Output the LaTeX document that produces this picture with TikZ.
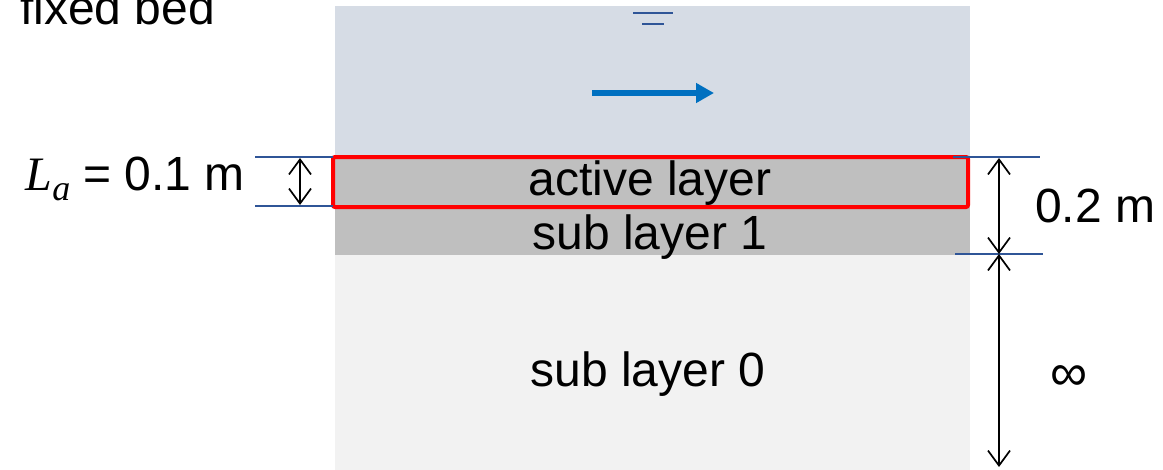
\documentclass[tikz,border=0pt]{standalone}
\usepackage{fontspec}
\setmainfont{Liberation Sans}
\newfontfamily\serifit{Liberation Serif}
\usetikzlibrary{arrows.meta}
\definecolor{water}{HTML}{D6DCE5}
\definecolor{layergray}{HTML}{BFBFBF}
\definecolor{substrate}{HTML}{F2F2F2}
\definecolor{dimblue}{HTML}{2F5597}
\definecolor{flowblue}{HTML}{0070C0}
\begin{document}
\begin{tikzpicture}[x=1pt,y=-1pt,
  every node/.style={inner sep=0pt, outer sep=0pt},
  lbl/.style={font=\fontsize{48}{52}\selectfont},
  layerbox/.style={anchor=north west, draw=none},
  dimline/.style={draw=dimblue, line width=1.4pt},
  dimarrow/.style={draw=black, line width=1.7pt, {Straight Barb[length=15pt,width=22pt]}-{Straight Barb[length=15pt,width=22pt]}},
  surf/.style={draw=dimblue, line width=1.6pt}
]
\useasboundingbox (0,0) rectangle (1163,469);
\clip (0,0) rectangle (1163,469);

% layers
\node[layerbox, fill=water, minimum width=635pt, minimum height=151pt] (water) at (335,6) {};
\node[layerbox, fill=layergray, minimum width=635pt, minimum height=98pt] (gray) at (335,157) {};
\node[layerbox, fill=substrate, minimum width=635pt, minimum height=220pt] (sub0box) at (335,255) {};
\node[draw=red, line width=4pt, rounded corners=2pt, anchor=north west, minimum width=635pt, minimum height=50pt] (active) at (333,157) {};

% layer labels
\node[lbl, anchor=base] (activetxt) at (650,195) {active layer};
\node[lbl, anchor=base] (sub1txt) at (650,249) {sub layer 1};
\node[lbl, anchor=base] (sub0txt) at (648,386) {sub layer 0};

% title
\node[lbl, anchor=base east] (title) at (215,24) {fixed bed};

% water surface
\coordinate (s1a) at (633,13); \coordinate (s1b) at (673,13);
\coordinate (s2a) at (642,24); \coordinate (s2b) at (664,24);
\draw[surf] (s1a) -- (s1b);
\draw[surf] (s2a) -- (s2b);

% flow arrow
\coordinate (fa) at (592,93); \coordinate (fb) at (714,93);
\draw[flowblue, line width=6.5pt, -{Triangle[length=18pt,width=19pt]}] (fa) -- (fb);

% left dimension
\coordinate (l1a) at (255,157); \coordinate (l1b) at (333,157);
\coordinate (l2a) at (255,206); \coordinate (l2b) at (333,206);
\draw[dimline] (l1a) -- (l1b);
\draw[dimline] (l2a) -- (l2b);
\coordinate (la) at (300,158); \coordinate (lb) at (300,205);
\draw[dimarrow] (la) -- (lb);
\node[lbl, anchor=base east] (latxt) at (245,190) {{\serifit\itshape L}\raisebox{-0.22em}{\serifit\itshape\fontsize{36}{36}\selectfont a} = 0.1 m};

% right dimension
\coordinate (r1a) at (953,157); \coordinate (r1b) at (1040,157);
\coordinate (r2a) at (955,254); \coordinate (r2b) at (1043,254);
\draw[dimline] (r1a) -- (r1b);
\draw[dimline] (r2a) -- (r2b);
\coordinate (ra) at (999,158); \coordinate (rb) at (999,254); \coordinate (rc) at (999,467);
\draw[dimarrow] (ra) -- (rb);
\draw[dimarrow] (rb) -- (rc);
\node[lbl, anchor=base west] (twotxt) at (1035,222) {0.2 m};
\node[anchor=center, font=\fontsize{52}{56}\selectfont] (inftxt) at (1069,378) {∞};
\end{tikzpicture}
\end{document}
